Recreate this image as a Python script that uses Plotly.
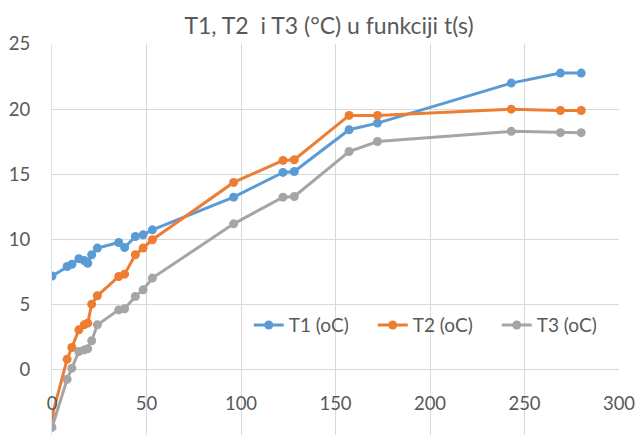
import plotly.graph_objects as go

t = [0, 8, 10.5, 14.2, 17, 18.9, 21, 24, 35.3, 38.4, 44.1, 48.2, 53.1,
     96.1, 122.2, 128.2, 157.2, 172.2, 243, 269, 280]
T1 = [7.2, 7.93, 8.1, 8.52, 8.39, 8.18, 8.83, 9.34, 9.77, 9.39, 10.23, 10.36, 10.74,
      13.25, 15.15, 15.22, 18.42, 18.93, 22.0, 22.77, 22.77]
T2 = [-3.58, 0.82, 1.71, 3.07, 3.45, 3.58, 5.04, 5.68, 7.16, 7.34, 8.83, 9.34, 9.98,
      14.38, 16.07, 16.12, 19.52, 19.52, 20.0, 19.9, 19.9]
T3 = [-4.42, -0.72, 0.13, 1.41, 1.53, 1.61, 2.23, 3.45, 4.6, 4.68, 5.63, 6.14, 7.04,
      11.2, 13.25, 13.3, 16.75, 17.52, 18.3, 18.2, 18.2]

series = [("T1 (oC)", T1, "#5B9BD5"), ("T2 (oC)", T2, "#ED7D31"), ("T3 (oC)", T3, "#A5A5A5")]
title_text = "T1, T2  i T3 (°C) u funkciji t(s)"
x_ticks = [0, 50, 100, 150, 200, 250, 300]
y_ticks = [-5, 0, 5, 10, 15, 20, 25]

FONT = "Lato"
GRAY = "#595959"

fig = go.Figure()
for name, vals, col in series:
    fig.add_trace(go.Scatter(x=t, y=vals, name=name, mode="lines+markers",
                             line=dict(color=col, width=3),
                             marker=dict(color=col, size=9)))

fig.update_layout(
    width=637, height=441,
    margin=dict(l=51.5, r=18, t=44, b=6),
    paper_bgcolor="white", plot_bgcolor="white",
    font=dict(family=FONT, color=GRAY, size=18.5),
    title=dict(text=title_text, xref="container", yref="container",
               x=329/637, y=1-26/441, xanchor="center", yanchor="middle",
               font=dict(family=FONT, size=23, color=GRAY)),
    legend=dict(orientation="h", x=0.347, y=0.281, xanchor="left", yanchor="middle",
                bgcolor="rgba(0,0,0,0)", font=dict(size=19, color=GRAY),
                itemwidth=30, entrywidth=79, entrywidthmode="pixels"),
    showlegend=True,
)
fig.update_xaxes(range=[0, 300], tickvals=x_ticks, showgrid=True, gridcolor="#D9D9D9",
                 gridwidth=1, zeroline=False, showline=False, automargin=False,
                 anchor="free", position=1/6, ticks="outside", ticklen=17,
                 tickcolor="rgba(0,0,0,0)", tickfont=dict(size=18.5, color=GRAY))
fig.update_yaxes(range=[-5, 25], tickvals=y_ticks, showgrid=True, gridcolor="#D9D9D9",
                 gridwidth=1, zeroline=False, showline=True, linecolor="#D6E3F3",
                 linewidth=1, ticks="outside", ticklen=17, tickcolor="rgba(0,0,0,0)",
                 automargin=False, tickfont=dict(size=18.5, color=GRAY))

fig.write_html("out.html")
